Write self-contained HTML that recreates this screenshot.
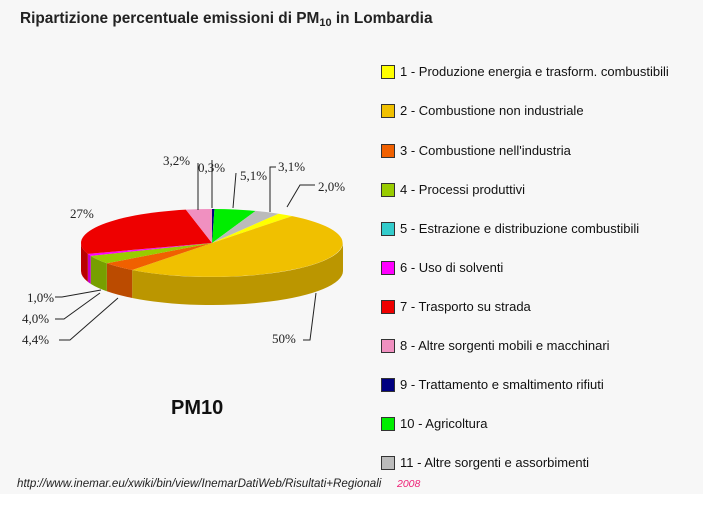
<!DOCTYPE html>
<html><head><meta charset="utf-8"><style>
body{margin:0;width:703px;height:516px;background:#fff;overflow:hidden;font-family:"Liberation Sans",Arial,sans-serif}
#bg{position:absolute;left:0;top:0;width:703px;height:494px;background:#f7f7f7}
.t{position:absolute;white-space:nowrap}
.lg{position:absolute;left:381px;font-size:13px;color:#111;white-space:nowrap;line-height:14px}
.lg i{display:inline-block;width:12px;height:12px;border:1px solid #333;vertical-align:-3px;margin-right:5px}
</style></head><body>
<div id="bg"></div>
<div class="t" style="left:20px;top:10px;font-size:15.4px;font-weight:bold;color:#222">Ripartizione percentuale emissioni di PM<span style="font-size:11px;vertical-align:-3px">10</span> in Lombardia</div>
<div class="lg" style="top:65px"><i style="background:#ffff00"></i>1 - Produzione energia e trasform. combustibili</div>
<div class="lg" style="top:104px"><i style="background:#f0c000"></i>2 - Combustione non industriale</div>
<div class="lg" style="top:144px"><i style="background:#f06000"></i>3 - Combustione nell'industria</div>
<div class="lg" style="top:183px"><i style="background:#99cc00"></i>4 - Processi produttivi</div>
<div class="lg" style="top:222px"><i style="background:#33cccc"></i>5 - Estrazione e distribuzione combustibili</div>
<div class="lg" style="top:261px"><i style="background:#ff00ff"></i>6 - Uso di solventi</div>
<div class="lg" style="top:300px"><i style="background:#ee0000"></i>7 - Trasporto su strada</div>
<div class="lg" style="top:339px"><i style="background:#f090c0"></i>8 - Altre sorgenti mobili e macchinari</div>
<div class="lg" style="top:378px"><i style="background:#000080"></i>9 - Trattamento e smaltimento rifiuti</div>
<div class="lg" style="top:417px"><i style="background:#00ee00"></i>10 - Agricoltura</div>
<div class="lg" style="top:456px"><i style="background:#bbbbbb"></i>11 - Altre sorgenti e assorbimenti</div>
<div class="t" style="left:171px;top:397px;font-size:20px;font-weight:bold;color:#111">PM10</div>
<div class="t" style="left:17px;top:477px;font-size:11.6px;font-style:italic;color:#222">http://www.inemar.eu/xwiki/bin/view/InemarDatiWeb/Risultati+Regionali</div>
<div class="t" style="left:397px;top:478px;font-size:10.5px;font-style:italic;color:#ee2277">2008</div>
<svg id="s" width="703" height="516" style="position:absolute;left:0;top:0"></svg>
<script>
var cx=212,cy=243,rx=131,ry=34,d=28;
var data=[[0.3,'#000080'],[5.1,'#00ee00'],[3.1,'#bbbbbb'],[2.0,'#ffff00'],[50,'#f0c000'],[4.4,'#f06000'],[4.0,'#99cc00'],[1.0,'#ff00ff'],[0.01,'#33cccc'],[27,'#ee0000'],[3.2,'#f090c0']];
var tot=0;data.forEach(function(x){tot+=x[0]});
function P(t,dy){return (cx+rx*Math.sin(t)).toFixed(2)+','+(cy-ry*Math.cos(t)+(dy||0)).toFixed(2)}
function dk(c,f){var n=parseInt(c.slice(1),16),r=(n>>16)&255,g=(n>>8)&255,b=n&255;return 'rgb('+[r,g,b].map(function(v){return Math.round(v*f)}).join(',')+')'}
var sides='',tops='',a=0,PI=Math.PI;
data.forEach(function(x){
 var b=a+x[0]/tot*2*PI;
 var s=Math.max(a,PI/2),e=Math.min(b,3*PI/2);
 if(e>s){var l=(e-s)>PI?1:0;
  sides+='<path d="M'+P(s)+' A'+rx+','+ry+' 0 '+l+',1 '+P(e)+' L'+P(e,d)+' A'+rx+','+ry+' 0 '+l+',0 '+P(s,d)+'Z" fill="'+dk(x[1],0.78)+'"/>';}
 var L=(b-a)>PI?1:0;
 tops+='<path d="M'+cx+','+cy+' L'+P(a)+' A'+rx+','+ry+' 0 '+L+',1 '+P(b)+'Z" fill="'+x[1]+'"/>';
 a=b;});
var ln='stroke="#222" fill="none" stroke-width="1"';
var lbl='<g font-family="Liberation Serif,serif" font-size="13" fill="#222">'+
'<text x="163" y="165">3,2%</text><text x="198" y="172">0,3%</text><text x="240" y="180">5,1%</text><text x="278" y="171">3,1%</text><text x="318" y="191">2,0%</text>'+
'<text x="70" y="218">27%</text><text x="27" y="302">1,0%</text><text x="22" y="323">4,0%</text><text x="22" y="344">4,4%</text><text x="272" y="343">50%</text></g>'+
'<path '+ln+' d="M198,163 V210 M212,160 V208 M236,173 L233,208 M276,167 H270 V212 M315,185 H300 L287,207 M55,297 H62 L101,290 M55,319 H64 L100,293 M59,340 H70 L118,298 M303,340 H310 L316,293"/>';
document.getElementById('s').innerHTML=sides+tops+lbl;
</script>
</body></html>
